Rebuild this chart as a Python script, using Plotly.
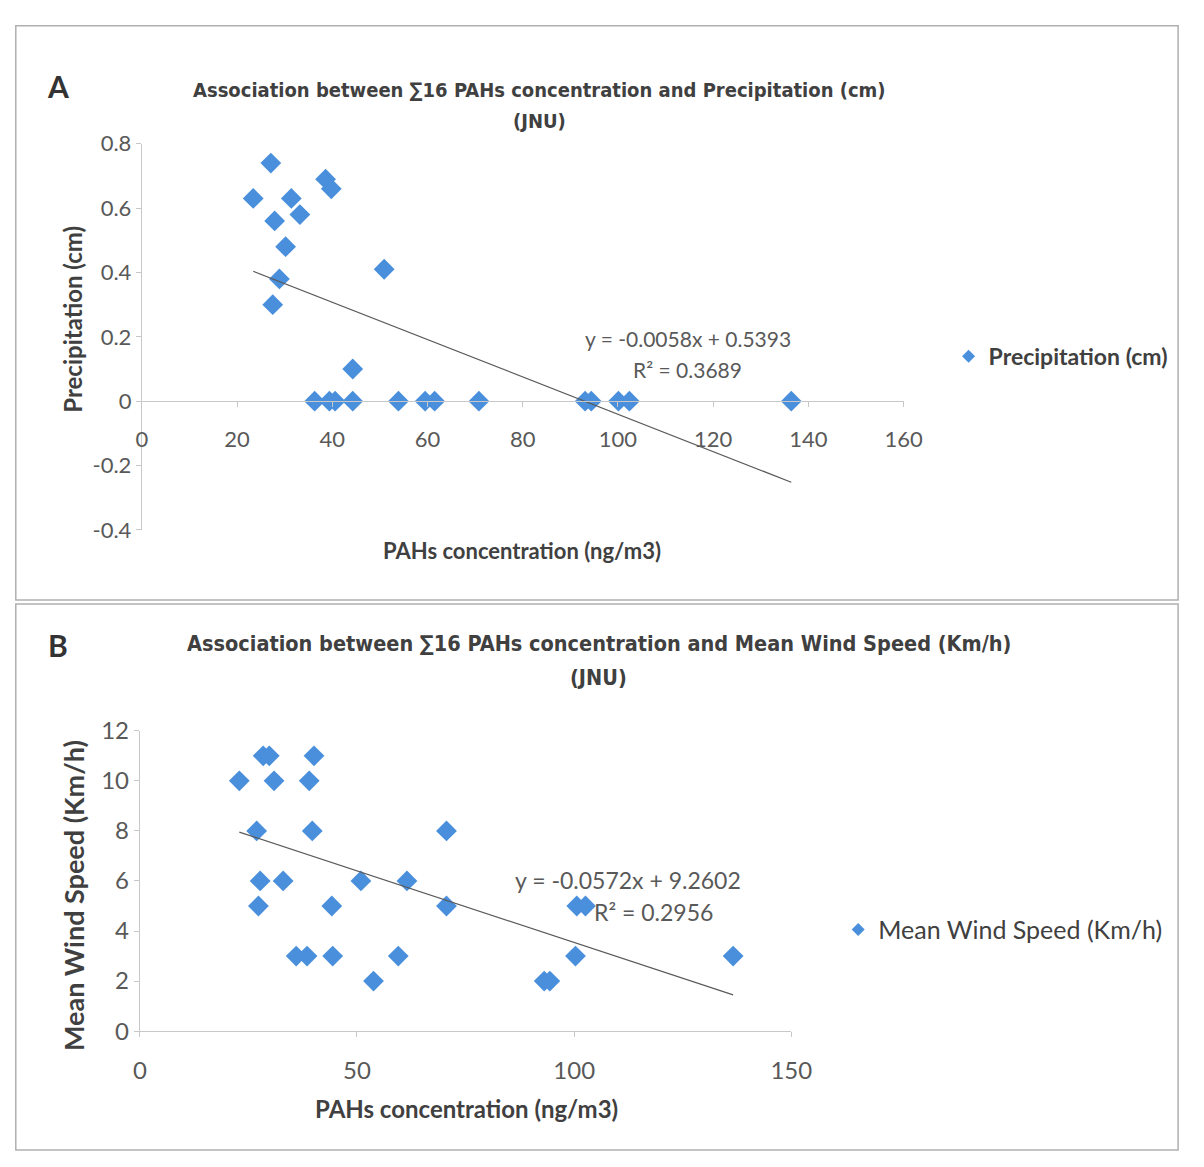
import plotly.graph_objects as go

W, H = 1204, 1167

# ---------------- data ----------------
precip_x = [23.4, 27.1, 27.9, 30.2, 31.4, 33.2, 28.9, 27.5, 38.6, 39.8, 50.9, 44.3,
            36.3, 39.4, 40.6, 44.3, 53.9, 59.5, 61.5, 70.8, 93.1, 94.4, 100.1, 102.4, 136.4]
precip_y = [0.63, 0.74, 0.56, 0.48, 0.63, 0.58, 0.38, 0.30, 0.69, 0.66, 0.41, 0.10,
            0, 0, 0, 0, 0, 0, 0, 0, 0, 0, 0, 0, 0]
precip_slope, precip_intercept = -0.0058, 0.5393
precip_eq = ["y = -0.0058x + 0.5393", "R² = 0.3689"]

wind_x = [22.9, 28.4, 29.8, 40.1, 30.9, 39.0, 26.9, 39.7, 70.6, 27.7, 33.0, 50.9, 61.5,
          27.3, 44.2, 70.6, 36.0, 38.5, 44.4, 59.5, 53.8, 93.1, 94.4, 100.6, 102.6, 100.3, 136.6]
wind_y = [10, 11, 11, 11, 10, 10, 8, 8, 8, 6, 6, 6, 6,
          5, 5, 5, 3, 3, 3, 3, 2, 2, 2, 5, 5, 3, 3]
wind_slope, wind_intercept = -0.0572, 9.2602
wind_eq = ["y = -0.0572x + 9.2602", "R² = 0.2956"]

a_xticks = [0, 20, 40, 60, 80, 100, 120, 140, 160]
a_yticks = [-0.4, -0.2, 0, 0.2, 0.4, 0.6, 0.8]
a_ytext = ["-0.4", "-0.2", "0", "0.2", "0.4", "0.6", "0.8"]
b_xticks = [0, 50, 100, 150]
b_yticks = [0, 2, 4, 6, 8, 10, 12]

# ---------------- styling helpers ----------------
def px(x):
    return x / W

def py(y):
    return 1 - y / H

MARK = "#4a8fdc"
TXT = "#404040"
TICK = "#595959"
AXL = "#c8c8c8"
BODY = "Lato, Open Sans, sans-serif"
NARROW = "Liberation Sans Narrow, DejaVu Sans Condensed, Lato, sans-serif"

fig = go.Figure()

# Panel A
fig.add_trace(go.Scatter(x=precip_x, y=precip_y, mode="markers", xaxis="x", yaxis="y",
                         marker=dict(symbol="diamond", size=16, color=MARK),
                         showlegend=False, name="Precipitation (cm)"))
ax0, ax1 = min(precip_x), max(precip_x)
fig.add_trace(go.Scatter(x=[ax0, ax1],
                         y=[precip_slope * ax0 + precip_intercept, precip_slope * ax1 + precip_intercept],
                         mode="lines", xaxis="x", yaxis="y",
                         line=dict(color="#5a5a5a", width=1.2), showlegend=False))
fig.add_trace(go.Scatter(x=[None], y=[None], mode="markers", xaxis="x", yaxis="y",
                         marker=dict(symbol="diamond", size=10, color=MARK),
                         name="Precipitation (cm)", legend="legend"))

# Panel B
fig.add_trace(go.Scatter(x=wind_x, y=wind_y, mode="markers", xaxis="x2", yaxis="y2",
                         marker=dict(symbol="diamond", size=16, color=MARK),
                         showlegend=False, name="Mean Wind Speed (Km/h)"))
bx0, bx1 = min(wind_x), max(wind_x)
fig.add_trace(go.Scatter(x=[bx0, bx1],
                         y=[wind_slope * bx0 + wind_intercept, wind_slope * bx1 + wind_intercept],
                         mode="lines", xaxis="x2", yaxis="y2",
                         line=dict(color="#5a5a5a", width=1.2), showlegend=False))
fig.add_trace(go.Scatter(x=[None], y=[None], mode="markers", xaxis="x2", yaxis="y2",
                         marker=dict(symbol="diamond", size=10, color=MARK),
                         name="Mean Wind Speed (Km/h)", legend="legend2"))

a_ydom = [py(527), py(131)]
a_zero = py(395)
b_ydom = [py(1041), py(733)]

axis_common = dict(showgrid=False, zeroline=False, showline=True, linecolor=AXL, linewidth=1,
                   ticks="outside", ticklen=5, tickcolor=AXL)

fig.update_layout(
    width=W, height=H,
    margin=dict(l=0, r=0, t=0, b=0),
    paper_bgcolor="white", plot_bgcolor="white",
    xaxis=dict(domain=[px(138), px(918)], range=[0, 160], tickvals=a_xticks,
               anchor="free", position=a_zero, ticklabelstandoff=13,
               tickfont=dict(family=BODY, size=22, color=TICK), **axis_common),
    yaxis=dict(domain=a_ydom, range=[-0.4, 0.8], tickvals=a_yticks, ticktext=a_ytext,
               anchor="x", tickfont=dict(family=BODY, size=22, color=TICK), **axis_common),
    xaxis2=dict(domain=[px(136), px(803)], range=[0, 150], tickvals=b_xticks,
                anchor="y2", ticklabelstandoff=13,
                tickfont=dict(family=BODY, size=24, color=TICK), **axis_common),
    yaxis2=dict(domain=b_ydom, range=[0, 12], tickvals=b_yticks,
                anchor="x2", tickfont=dict(family=BODY, size=24, color=TICK), **axis_common),
    legend=dict(x=px(964), y=py(349), xanchor="left", yanchor="middle",
                font=dict(family=BODY, size=23, color=TXT, weight="bold"),
                bgcolor="rgba(0,0,0,0)", itemwidth=30),
    legend2=dict(x=px(851), y=py(937), xanchor="left", yanchor="middle",
                 font=dict(family=BODY, size=25, color=TXT),
                 bgcolor="rgba(0,0,0,0)", itemwidth=30),
)

shapes = [
    dict(type="rect", xref="paper", yref="paper", x0=px(9), x1=px(1199), y0=py(599), y1=py(10),
         line=dict(color="#b0b0b0", width=1.5)),
    dict(type="rect", xref="paper", yref="paper", x0=px(9), x1=px(1199), y0=py(1163), y1=py(603),
         line=dict(color="#b0b0b0", width=1.5)),
]
fig.update_layout(shapes=shapes)

def ann(text, x, y, size, family=BODY, bold=False, color=TXT, angle=0, xanchor="center"):
    return dict(text=text, x=px(x), y=py(y), xref="paper", yref="paper", showarrow=False,
                xanchor=xanchor, yanchor="middle", textangle=angle,
                font=dict(family=family, size=size, color=color, weight="bold" if bold else "normal"))

annotations = [
    ann("A", 52, 72, 30, bold=True, color="#333333"),
    ann("Association between ∑16 PAHs concentration and Precipitation (cm)", 545, 76, 20, family=NARROW, bold=True),
    ann("(JNU)", 545, 108, 20, family=NARROW, bold=True),
    ann("Precipitation (cm)", 67, 311, 24, bold=True, angle=-90),
    ann("PAHs concentration (ng/m3)", 527, 548, 22, bold=True),
    ann(precip_eq[0], 697, 331, 21, color=TICK),
    ann(precip_eq[1], 697, 363, 21, color=TICK),
    ann("B", 52, 645, 30, bold=True, color="#333333"),
    ann("Association between ∑16 PAHs concentration and Mean Wind Speed (Km/h)", 606, 643, 21.5, family=NARROW, bold=True),
    ann("(JNU)", 606, 678, 21.5, family=NARROW, bold=True),
    ann("Mean Wind Speed (Km/h)", 68, 902, 27, bold=True, angle=-90),
    ann("PAHs concentration (ng/m3)", 470, 1120, 24, bold=True),
    ann(wind_eq[0], 636, 886, 23, color=TICK),
    ann(wind_eq[1], 662, 919, 23, color=TICK),
]
fig.update_layout(annotations=annotations)

fig.write_html("out.html")
